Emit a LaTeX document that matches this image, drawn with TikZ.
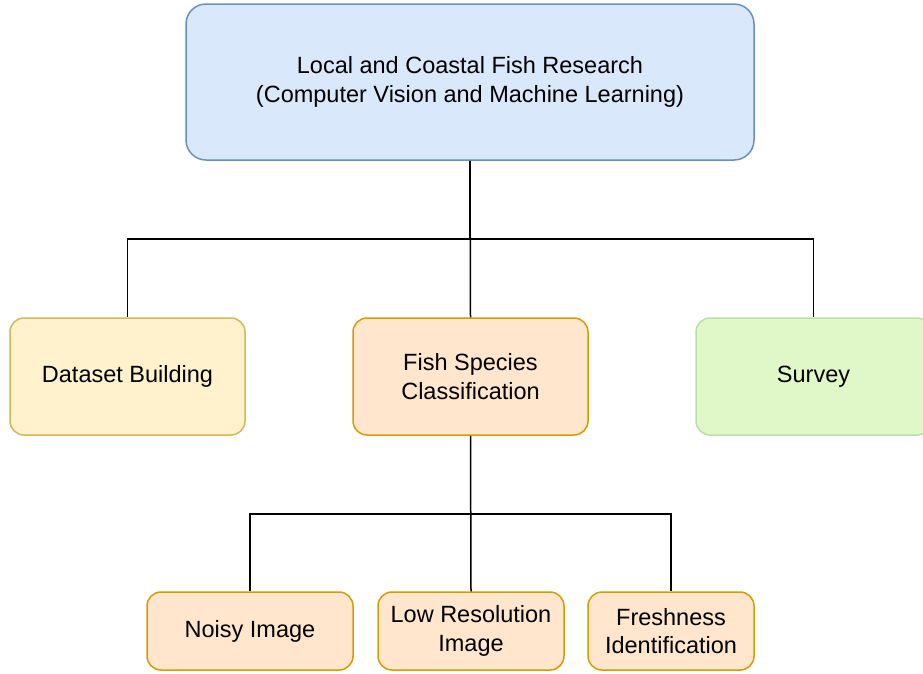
\documentclass[tikz,border=0pt]{standalone}
\usepackage{fontspec}
\setmainfont{Liberation Sans}
\definecolor{blueF}{HTML}{DAE8FC}
\definecolor{blueD}{HTML}{6C8EBF}
\definecolor{yelF}{HTML}{FFF2CC}
\definecolor{yelD}{HTML}{D6B656}
\definecolor{orF}{HTML}{FFE6CC}
\definecolor{orD}{HTML}{D79B00}
\definecolor{grF}{HTML}{E0F7C8}
\definecolor{grD}{HTML}{B9E0A5}
\begin{document}
\begin{tikzpicture}[x=1pt,y=-1pt,
  box/.style={rounded corners=14pt, line width=1.5pt, align=center, font=\fontsize{23.5}{28.5}\selectfont, inner sep=0pt},
  conn/.style={line width=1.5pt, black}]
\useasboundingbox (0,0) rectangle (923,673);
\node[box, draw=blueD, fill=blueF, minimum width=568pt, minimum height=156pt, rounded corners=20pt] (top) at (470,82) {Local and Coastal Fish Research\\(Computer Vision and Machine Learning)};
\node[box, draw=yelD, fill=yelF, minimum width=235pt, minimum height=117pt] (data) at (127.5,376.5) {Dataset Building};
\node[box, draw=orD, fill=orF, minimum width=235pt, minimum height=117pt] (fish) at (470.5,376.5) {Fish Species\\Classification};
\node[box, draw=grD, fill=grF, minimum width=235pt, minimum height=117pt] (survey) at (813.5,376.5) {Survey};
\node[box, draw=orD, fill=orF, minimum width=206pt, minimum height=78pt] (noisy) at (250,631) {Noisy Image};
\node[box, draw=orD, fill=orF, minimum width=186pt, minimum height=78pt] (low) at (471,631) {Low Resolution\\Image};
\node[box, draw=orD, fill=orF, minimum width=166pt, minimum height=78pt] (fresh) at (671,631) {Freshness\\Identification};
\draw[conn] (top.south) -- (top.south |- 0,239) -- (data.north |- 0,239) -- (data.north);
\draw[conn] (top.south) -- (fish.north);
\draw[conn] (top.south) -- (top.south |- 0,239) -- (survey.north |- 0,239) -- (survey.north);
\draw[conn] (fish.south) -- (fish.south |- 0,514) -- (noisy.north |- 0,514) -- (noisy.north);
\draw[conn] (fish.south) -- (low.north);
\draw[conn] (fish.south) -- (fish.south |- 0,514) -- (fresh.north |- 0,514) -- (fresh.north);
\end{tikzpicture}
\end{document}
